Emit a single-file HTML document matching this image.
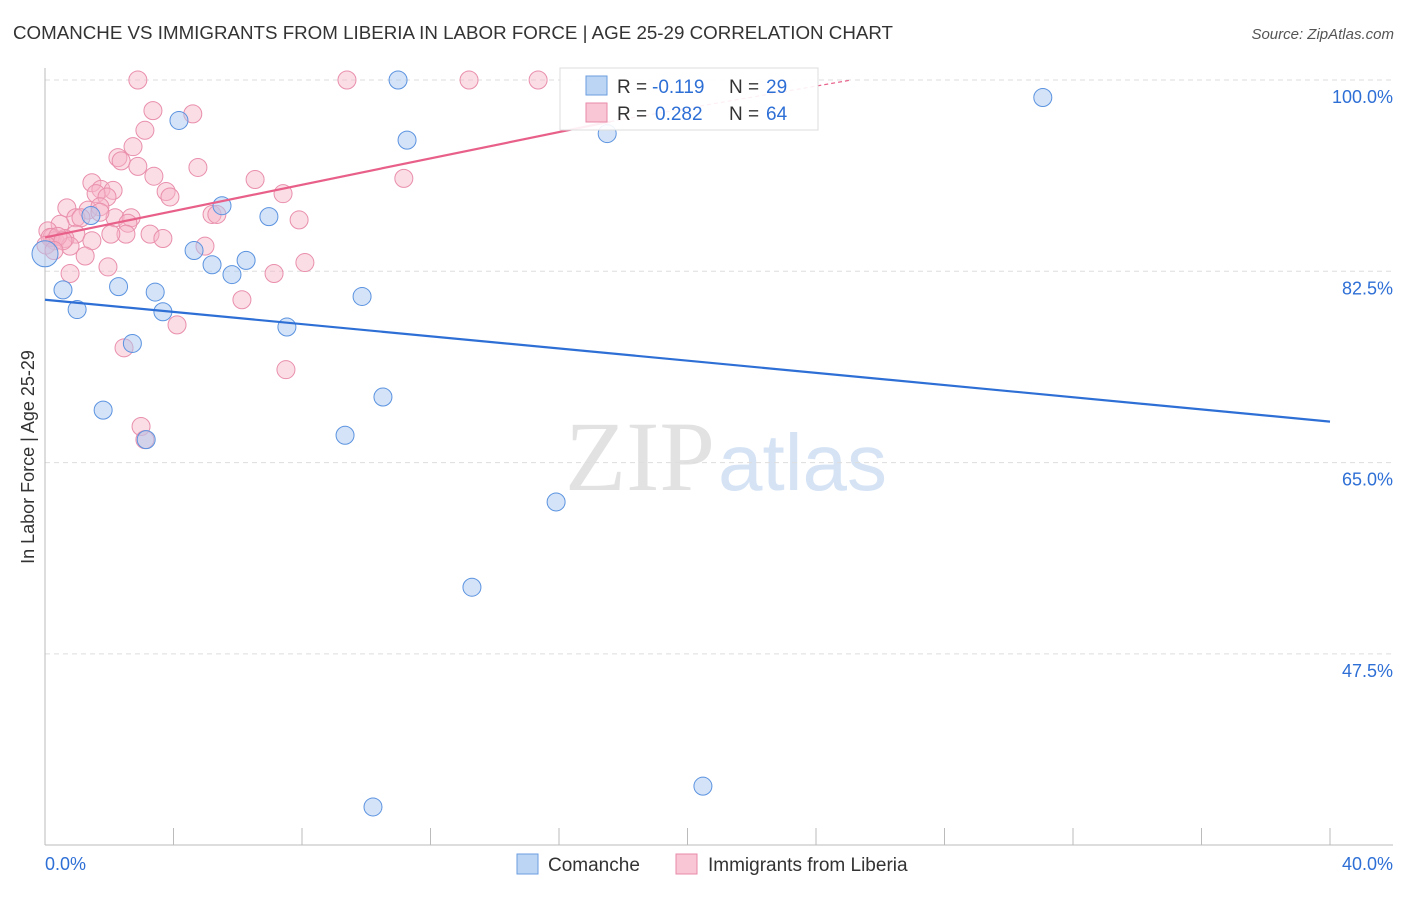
<!DOCTYPE html>
<html><head><meta charset="utf-8"><style>
body{margin:0;background:#fff;font-family:"Liberation Sans",sans-serif}
</style></head><body>
<svg id="chart" width="1406" height="892" xmlns="http://www.w3.org/2000/svg" font-family="Liberation Sans, sans-serif">
<text x="13" y="39" font-size="18" fill="#333" textLength="880" lengthAdjust="spacingAndGlyphs">COMANCHE VS IMMIGRANTS FROM LIBERIA IN LABOR FORCE | AGE 25-29 CORRELATION CHART</text>
<text x="1394" y="39" font-size="15" fill="#555" text-anchor="end" font-style="italic">Source: ZipAtlas.com</text>
<g>
<text x="715" y="490" font-size="100" fill="#e2e2e2" text-anchor="end" font-family="Liberation Serif, serif">ZIP</text>
<text x="718" y="490" font-size="80" fill="#d5e3f5" text-anchor="start">atlas</text>
</g>
<g id="grid"></g>
<g id="axes"></g>
<g id="marks"></g>
<g>
<rect x="560" y="68" width="258" height="62" fill="#fff" fill-opacity="0.9" stroke="#ddd"/>
<rect x="586" y="76" width="21" height="19" fill="#bcd5f5" stroke="#6b9ee0"/>
<text x="617" y="93" font-size="19" fill="#333">R =</text>
<text x="652" y="93" font-size="19" fill="#2e6fd6">-0.119</text>
<text x="729" y="93" font-size="19" fill="#333">N =</text>
<text x="766" y="93" font-size="19" fill="#2e6fd6">29</text>
<rect x="586" y="103" width="21" height="19" fill="#f9c6d5" stroke="#e88aa8"/>
<text x="617" y="120" font-size="19" fill="#333">R =</text>
<text x="655" y="120" font-size="19" fill="#2e6fd6">0.282</text>
<text x="729" y="120" font-size="19" fill="#333">N =</text>
<text x="766" y="120" font-size="19" fill="#2e6fd6">64</text>
</g>
<g>
<rect x="517" y="854" width="21" height="20" fill="#bcd5f5" stroke="#6b9ee0"/>
<text x="548" y="871" font-size="19" fill="#333">Comanche</text>
<rect x="676" y="854" width="21" height="20" fill="#f9c6d5" stroke="#e88aa8"/>
<text x="708" y="871" font-size="19" fill="#333">Immigrants from Liberia</text>
</g>
<text transform="translate(34,457) rotate(-90)" font-size="18" fill="#333" text-anchor="middle">In Labor Force | Age 25-29</text>
</svg>
<script>
const yTicks=[100,82.5,65,47.5];
const yTickLabels=["100.0%","82.5%","65.0%","47.5%"];
const xTickLabels=["0.0%","40.0%"];
const comancheX=[0,0.56,1.0,1.81,2.29,2.72,3.15,3.43,3.67,4.17,4.64,5.2,5.51,5.82,6.26,6.97,7.53,9.34,9.87,10.21,10.52,10.99,11.27,13.29,15.91,17.5,20.48,31.06,1.43];
const comancheY=[84.1,80.8,79.0,69.8,81.1,75.9,67.1,80.6,78.8,96.3,84.4,83.1,88.5,82.2,83.5,87.5,77.4,67.5,80.2,33.5,71.0,100.0,94.5,53.6,61.4,95.1,35.4,98.4,87.6];
const liberiaX=[2.89,9.4,13.2,15.35,3.36,4.6,3.11,2.74,2.27,2.37,2.89,4.76,3.39,6.54,11.17,1.46,1.74,2.12,1.59,1.93,3.77,3.89,7.41,0.68,1.34,1.71,0.96,1.12,2.18,2.68,2.58,5.2,5.35,7.91,3.27,2.52,2.05,3.67,0.96,1.46,0.47,0.09,0.22,0.31,0.62,0.78,1.25,4.98,1.96,0.78,7.13,8.09,6.13,4.11,2.46,7.5,2.99,3.11,0.16,0.4,0.03,0.56,0.28,1.71];
const liberiaY=[100.0,100.0,100.0,100.0,97.2,96.9,95.4,93.9,92.9,92.6,92.1,92.0,91.2,90.9,91.0,90.6,90.0,89.9,89.6,89.3,89.8,89.3,89.6,88.3,88.1,88.4,87.4,87.4,87.4,87.4,86.9,87.7,87.7,87.2,85.9,85.9,85.9,85.5,85.9,85.3,86.8,86.2,85.6,85.3,85.5,84.8,83.9,84.8,82.9,82.3,82.3,83.3,79.9,77.6,75.5,73.5,68.3,67.1,85.6,85.7,84.9,85.3,84.4,87.9];
const comancheTrend=[0,79.9,40,68.75];
const liberiaTrend=[0,85.6,17.6,96.2,25.1,100];
const X=v=>45+v/40*1285, Y=v=>80+(100-v)*191.3/17.5;
const NS="http://www.w3.org/2000/svg";
function mk(tag,attrs,parent){const e=document.createElementNS(NS,tag);for(const k in attrs)e.setAttribute(k,attrs[k]);parent.appendChild(e);return e;}
const grid=document.getElementById('grid'),axes=document.getElementById('axes'),marks=document.getElementById('marks');
yTicks.forEach((t,i)=>{
  const l=mk('line',{x1:45,x2:1393,y1:Y(t),y2:Y(t),stroke:'#ddd','stroke-dasharray':'5,4'},grid);
  
  
  const tx=mk('text',{x:1393,y:Y(t)+23,'font-size':18,fill:'#2e6fd6','text-anchor':'end'},axes);
  tx.textContent=yTickLabels[i];
  
  
});
const ax=mk('line',{x1:45,x2:1393,y1:845,y2:845,stroke:'#bbb'},axes);


const ay=mk('line',{x1:45,x2:45,y1:68,y2:845,stroke:'#bbb'},axes);


for(let i=0;i<=10;i++){
  const t=mk('line',{x1:X(i*4),x2:X(i*4),y1:828,y2:845,stroke:'#bbb'},axes);
  
  
}
[[0,'start',45],[40,'end',1393]].forEach((d,i)=>{
  const t=mk('text',{x:d[2],y:870,'font-size':18,fill:'#2e6fd6','text-anchor':d[1]},axes);
  t.textContent=xTickLabels[i];
  
  
});
liberiaX.forEach((x,i)=>{
  const c=mk('circle',{cx:X(x),cy:Y(liberiaY[i]),r:9,fill:'#f7b3c7','fill-opacity':0.45,stroke:'#e98fac','stroke-width':1},marks);
  
  
});
comancheX.forEach((x,i)=>{
  const c=mk('circle',{cx:X(x),cy:Y(comancheY[i]),r:i===0?13:9,fill:'#a9c8f0','fill-opacity':0.5,stroke:'#5b93e0','stroke-width':1},marks);
  
  
});
const bl=mk('line',{x1:X(comancheTrend[0]),y1:Y(comancheTrend[1]),x2:X(comancheTrend[2]),y2:Y(comancheTrend[3]),stroke:'#2e6fd6','stroke-width':2.2},marks);


const pl=mk('line',{x1:X(liberiaTrend[0]),y1:Y(liberiaTrend[1]),x2:X(liberiaTrend[2]),y2:Y(liberiaTrend[3]),stroke:'#e8608a','stroke-width':2.2},marks);


const pd=mk('line',{x1:X(liberiaTrend[2]),y1:Y(liberiaTrend[3]),x2:X(liberiaTrend[4]),y2:Y(liberiaTrend[5]),stroke:'#e8608a','stroke-width':1.2,'stroke-dasharray':'4,3'},marks);


</script>
</body></html>
